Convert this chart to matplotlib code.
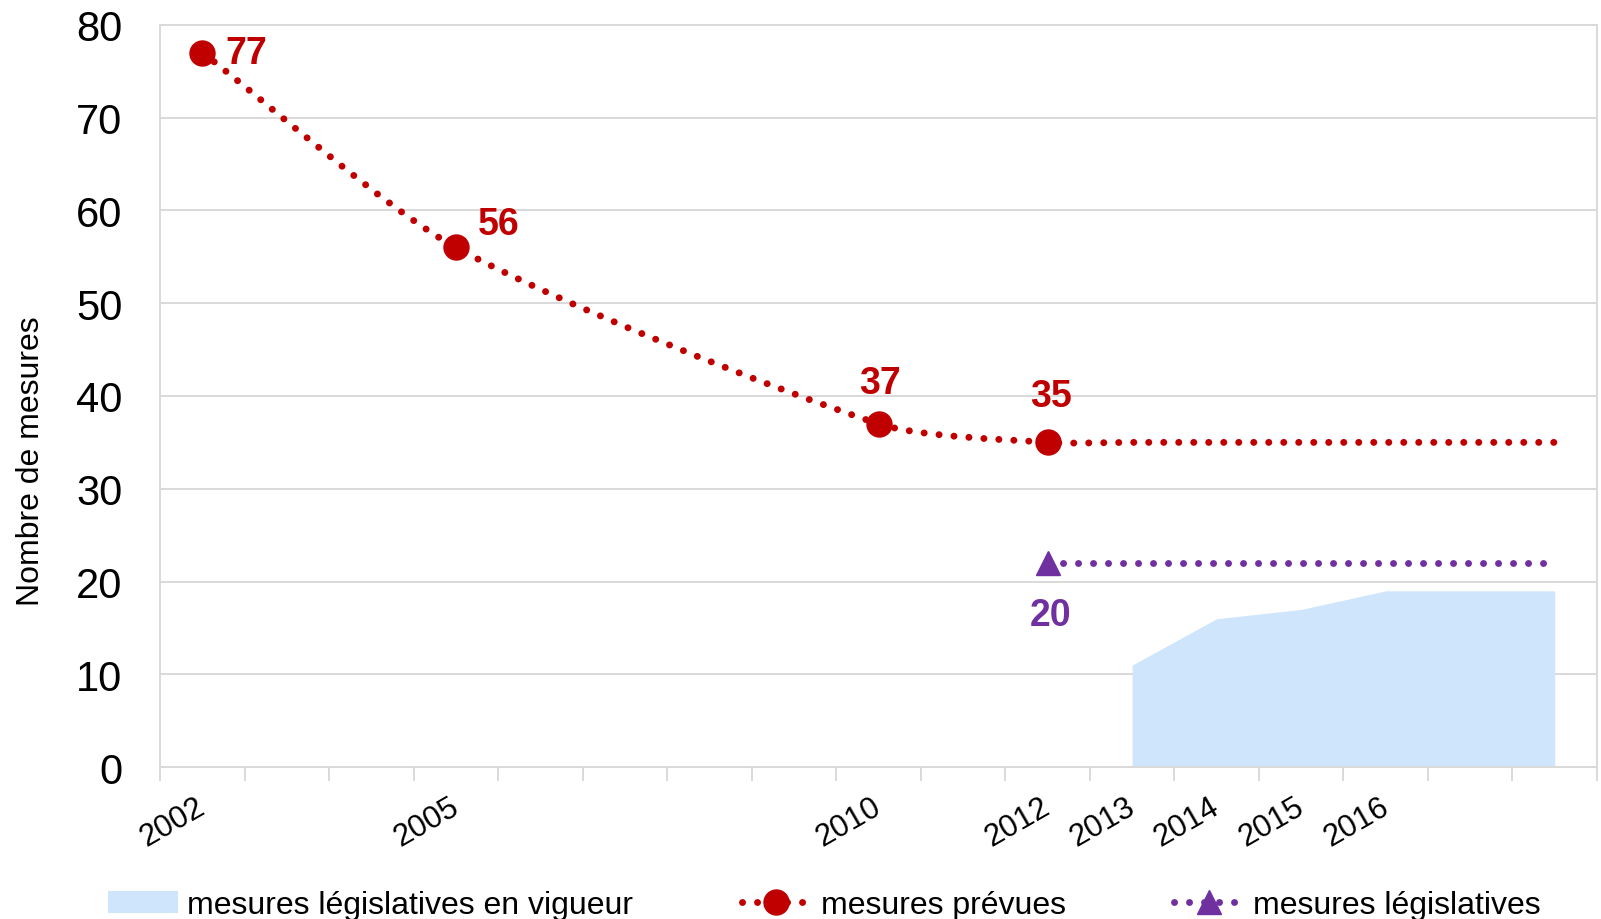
import numpy as np
import matplotlib
matplotlib.use("Agg")
import matplotlib.pyplot as plt
from matplotlib.path import Path
from matplotlib.patches import PathPatch, Patch
from matplotlib.lines import Line2D
from matplotlib.transforms import ScaledTranslation

# ---------- DATA ----------
CATEGORIES = ["2002", "", "", "2005", "", "", "", "", "2010", "",
              "2012", "2013", "2014", "2015", "2016", "", ""]

# mesures prévues (index of category, value)
PREV_X = [0, 3, 8, 10, 11, 12, 13, 14, 15, 16]
PREV_Y = [77, 56, 37, 35, 35, 35, 35, 35, 35, 35]
PREV_LABELS = ["77", "56", "37", "35"]

# mesures législatives
LEG_X = [10, 11, 12, 13, 14, 15, 16]
LEG_Y = [22, 22, 22, 22, 22, 22, 22]
LEG_LABEL = "20"

# mesures législatives en vigueur
VIG_X = [11, 12, 13, 14, 15, 16]
VIG_Y = [11, 16, 17, 19, 19, 19]

# ---------- STYLE ----------
RED = '#C00000'
PURPLE = '#7030A0'
AREA = '#CFE5FB'
GRID = '#D9D9D9'
LW = 5.0
DOTS = (0, (0.01, 2.15))
TENSION = 0.25

plt.rcParams['font.family'] = ['Liberation Sans', 'DejaVu Sans']


def smooth_path(ax, xs, ys):
    # smoothed line like the spreadsheet one: bezier segments,
    # tangents weighted by chord length, computed in screen space
    pts = ax.transData.transform(np.column_stack([xs, ys]).astype(float))
    n = len(pts)
    verts = [pts[0]]
    codes = [Path.MOVETO]
    for i in range(n - 1):
        p0 = pts[max(i - 1, 0)]
        p1 = pts[i]
        p2 = pts[i + 1]
        p3 = pts[min(i + 2, n - 1)]
        d01 = np.hypot(*(p1 - p0))
        d12 = np.hypot(*(p2 - p1))
        d23 = np.hypot(*(p3 - p2))
        c1 = p1 + (p2 - p0) * d12 / (d01 + d12) * TENSION
        c2 = p2 - (p3 - p1) * d12 / (d12 + d23) * TENSION
        verts += [c1, c2, p2]
        codes += [Path.CURVE4] * 3
    verts = ax.transData.inverted().transform(np.array(verts))
    return Path(verts, codes)


fig = plt.figure(figsize=(16.01, 9.2), dpi=100)
ax = fig.add_axes([0.100, 0.165, 0.8975, 0.807])
ax.set_xlim(-0.5, len(CATEGORIES) - 0.5)
ax.set_ylim(0, 80)

# area
ax.fill_between(VIG_X, VIG_Y, 0, color=AREA, linewidth=0, zorder=1)

# red smoothed dotted line + markers
ax.add_patch(PathPatch(smooth_path(ax, PREV_X, PREV_Y), fill=False,
                       edgecolor=RED, lw=LW, linestyle=DOTS,
                       capstyle='round', zorder=3))
n_lab = len(PREV_LABELS)
ax.plot(PREV_X[:n_lab], PREV_Y[:n_lab], linestyle='None', marker='o',
        markersize=18, color=RED, zorder=4)

# purple dotted line
ax.plot(LEG_X, LEG_Y, linestyle=DOTS, dash_capstyle='round', lw=LW,
        color=PURPLE, marker='^', markersize=17, markevery=[0], zorder=4)

# data labels
offsets = [(44, 0), (43, 23), (1, 41), (3, 46)]
for x, y, lab, off in zip(PREV_X, PREV_Y, PREV_LABELS, offsets):
    ax.annotate(lab, (x, y), xytext=off, textcoords='offset pixels',
                ha='center', va='center', fontsize=27, fontweight='bold',
                color=RED, zorder=5)
ax.annotate(LEG_LABEL, (LEG_X[0], LEG_Y[0]), xytext=(3, -52),
            textcoords='offset pixels', ha='center', va='center',
            fontsize=27, fontweight='bold', color=PURPLE, zorder=5)

# axes
ax.set_yticks(np.arange(0, 81, 10))
ax.tick_params(axis='y', length=0, labelsize=30, pad=27)
ax.grid(axis='y', color=GRID, lw=1.4, zorder=0)
ax.set_axisbelow(True)

ax.set_xticks(np.arange(len(CATEGORIES)))
ax.set_xticklabels(CATEGORIES, rotation=30, ha='right', va='top')
ax.tick_params(axis='x', which='major', length=0, labelsize=22.5, pad=17)
shift = ScaledTranslation(0.08, 0, fig.dpi_scale_trans)
for lab in ax.get_xticklabels():
    lab.set_transform(lab.get_transform() + shift)
ax.set_xticks(np.arange(len(CATEGORIES) + 1) - 0.5, minor=True)
ax.tick_params(axis='x', which='minor', length=10, width=1.4, color=GRID)

for s in ax.spines.values():
    s.set_color(GRID)
    s.set_linewidth(1.4)

ax.set_ylabel('Nombre de mesures', fontsize=23)
ax.yaxis.set_label_coords(-0.0795, 0.413)

# legend
handles = [
    Patch(facecolor=AREA, edgecolor='none'),
    Line2D([], [], color=RED, lw=LW, linestyle=DOTS, dash_capstyle='round',
           marker='o', markersize=18),
    Line2D([], [], color=PURPLE, lw=LW, linestyle=DOTS, dash_capstyle='round',
           marker='^', markersize=17),
]
labels = ['mesures législatives en vigueur', 'mesures prévues',
          'mesures législatives']
fig.legend(handles, labels, loc='center', bbox_to_anchor=(0.515, 0.015),
           ncol=3, frameon=False, fontsize=23, handlelength=2.17,
           handletextpad=0.3, columnspacing=3.4, borderpad=0)

fig.savefig('out.png', dpi=100, facecolor='white')
